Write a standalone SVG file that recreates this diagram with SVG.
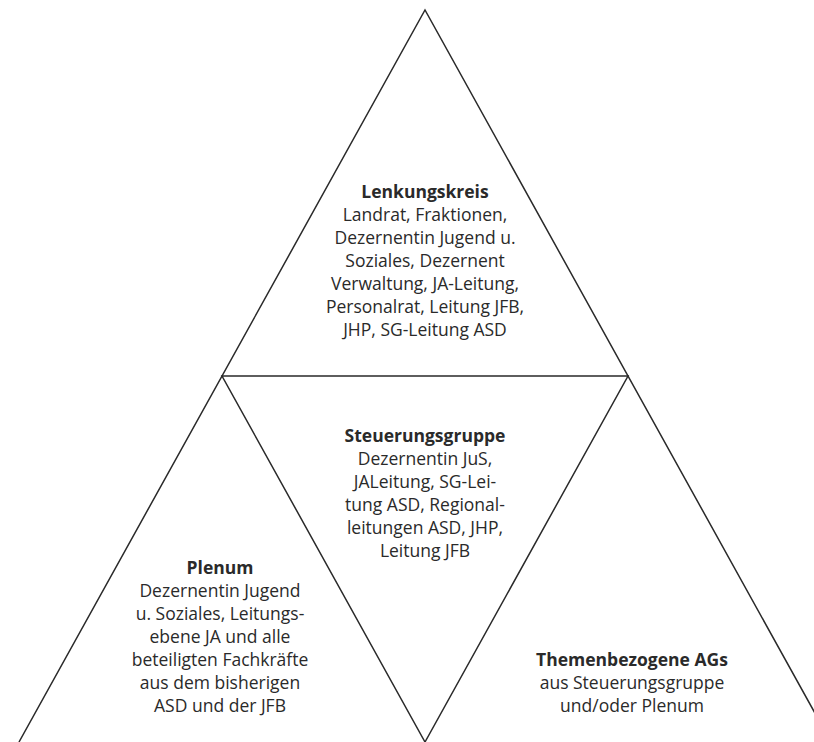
<svg xmlns="http://www.w3.org/2000/svg" width="814" height="742" viewBox="0 0 814 742">
<style>
.ln{stroke:#2a2a2a;stroke-width:1.5;fill:none;stroke-linejoin:miter}
text{font-family:"Open Sans","Noto Sans",sans-serif;font-size:17.5px;fill:#2a2a2a;text-anchor:middle}
.b{font-weight:bold}
</style>
<rect width="814" height="742" fill="#fff"/>
<g id="connectors">
<path class="ln" d="M19,742 L425,10 L831,742"/>
<path class="ln" d="M222,376 L628,376 L425,742 Z"/>
</g>
<g id="lenkungskreis">
<text x="425" y="198" class="b">Lenkungskreis</text>
<text x="425" y="221">Landrat, Fraktionen,</text>
<text x="425" y="244">Dezernentin Jugend u.</text>
<text x="425" y="267">Soziales, Dezernent</text>
<text x="425" y="290">Verwaltung, JA-Leitung,</text>
<text x="425" y="313">Personalrat, Leitung JFB,</text>
<text x="425" y="336">JHP, SG-Leitung ASD</text>
</g>
<g id="steuerungsgruppe">
<text x="425" y="442" class="b">Steuerungsgruppe</text>
<text x="425" y="465">Dezernentin JuS,</text>
<text x="425" y="488">JALeitung, SG-Lei-</text>
<text x="425" y="511">tung ASD, Regional-</text>
<text x="425" y="534">leitungen ASD, JHP,</text>
<text x="425" y="557">Leitung JFB</text>
</g>
<g id="plenum">
<text x="220" y="574" class="b">Plenum</text>
<text x="220" y="597">Dezernentin Jugend</text>
<text x="220" y="620">u. Soziales, Leitungs-</text>
<text x="220" y="643">ebene JA und alle</text>
<text x="220" y="666">beteiligten Fachkräfte</text>
<text x="220" y="689">aus dem bisherigen</text>
<text x="220" y="712">ASD und der JFB</text>
</g>
<g id="themen">
<text x="632" y="666" class="b">Themenbezogene AGs</text>
<text x="632" y="689">aus Steuerungsgruppe</text>
<text x="632" y="712">und/oder Plenum</text>
</g>
</svg>
